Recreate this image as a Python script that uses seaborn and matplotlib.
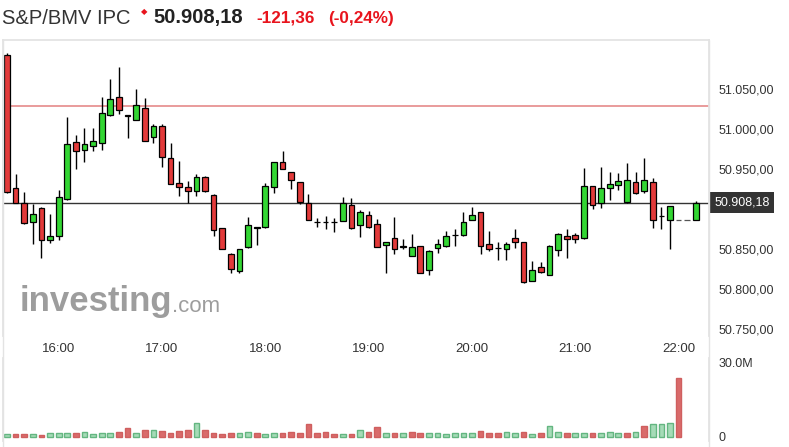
import numpy as np
import pandas as pd
import matplotlib.pyplot as plt
import matplotlib.transforms as mtransforms
from matplotlib.lines import Line2D
import seaborn as sns

# 5-minute candles from 15:30 to 22:10
opens = [51093.0, 50926.4, 50907.6, 50883.9, 50901.4, 50861.4, 50866.1, 50913.0, 50983.9, 50974.6,
         50979.5, 50983.4, 51017.5, 51039.8, 51017.1, 51011.7, 51026.4, 50989.8, 51004.0, 50963.6,
         50932.6, 50928.0, 50922.6, 50940.9, 50918.0, 50876.0, 50844.6, 50822.9, 50852.5, 50877.1,
         50877.6, 50928.4, 50958.9, 50946.4, 50933.9, 50908.4, 50883.9, 50884.0, 50884.5, 50885.5,
         50905.5, 50880.2, 50893.0, 50882.1, 50855.1, 50863.6, 50853.5, 50842.2, 50853.9, 50824.3,
         50851.9, 50853.9, 50868.0, 50867.4, 50886.8, 50896.1, 50857.1, 50851.1, 50850.6, 50863.6,
         50858.7, 50810.5, 50827.6, 50818.0, 50848.9, 50866.8, 50868.0, 50863.6, 50929.3, 50907.6,
         50926.4, 50930.5, 50908.7, 50934.6, 50923.0, 50933.9, 50891.7, 50886.8, 50886.8, 50886.8,
         50886.8]
highs = [51095.9, 50943.9, 50921.4, 50906.4, 50903.4, 50893.9, 50924.6, 51015.0, 50993.0, 51001.4,
         51001.4, 51039.8, 51062.6, 51077.3, 51017.5, 51050.1, 51038.5, 51006.0, 51006.0, 50982.6,
         50960.9, 50935.5, 50943.9, 50942.0, 50918.5, 50877.0, 50845.0, 50850.8, 50890.9, 50877.5,
         50932.6, 50959.0, 50973.4, 50946.5, 50934.0, 50918.6, 50889.6, 50891.7, 50889.6, 50915.1,
         50914.0, 50899.0, 50898.4, 50887.6, 50859.5, 50890.8, 50862.6, 50868.5, 50854.5, 50849.0,
         50862.6, 50873.4, 50874.9, 50897.1, 50902.6, 50896.5, 50873.0, 50859.6, 50859.5, 50875.0,
         50859.0, 50835.9, 50833.5, 50855.5, 50870.0, 50875.0, 50870.7, 50951.2, 50929.5, 50952.5,
         50947.0, 50945.7, 50957.5, 50946.0, 50963.6, 50938.9, 50902.6, 50904.5, 50886.8, 50886.8,
         50910.4]
lows = [50920.0, 50908.0, 50881.0, 50856.8, 50839.6, 50858.0, 50861.4, 50912.0, 50950.5, 50959.6,
        50972.7, 50973.5, 51016.6, 51019.0, 50989.6, 51011.0, 50985.0, 50983.0, 50953.0, 50932.0,
        50917.1, 50908.4, 50917.0, 50922.0, 50866.8, 50850.0, 50820.0, 50819.8, 50852.0, 50855.0,
        50877.0, 50920.9, 50950.0, 50924.8, 50906.4, 50886.0, 50878.4, 50875.5, 50871.8, 50885.0,
        50875.0, 50865.6, 50877.0, 50853.0, 50820.6, 50844.0, 50850.0, 50842.0, 50820.0, 50817.9,
        50845.6, 50853.0, 50854.4, 50867.0, 50886.0, 50844.0, 50847.4, 50836.5, 50836.5, 50851.0,
        50808.0, 50810.0, 50820.6, 50818.0, 50841.9, 50839.4, 50858.0, 50863.0, 50899.9, 50901.3,
        50912.0, 50924.0, 50908.0, 50918.6, 50920.9, 50877.1, 50875.0, 50850.5, 50886.8, 50886.8,
        50886.8]
closes = [50921.4, 50908.4, 50882.6, 50893.9, 50861.4, 50866.8, 50915.0, 50982.1, 50972.4, 50982.1,
          50985.6, 51020.1, 51038.3, 51023.5, 51017.1, 51030.5, 50985.2, 51004.0, 50965.0, 50932.1,
          50928.0, 50922.6, 50940.9, 50922.6, 50873.6, 50850.5, 50825.9, 50850.0, 50880.5, 50877.1,
          50929.6, 50958.9, 50950.5, 50936.8, 50909.6, 50886.8, 50883.9, 50884.0, 50883.5, 50908.4,
          50877.1, 50896.1, 50878.0, 50853.4, 50859.3, 50850.6, 50852.5, 50852.6, 50820.6, 50848.0,
          50856.1, 50866.8, 50868.0, 50883.9, 50893.4, 50853.6, 50850.6, 50851.1, 50857.1, 50858.7,
          50808.7, 50824.3, 50822.1, 50854.3, 50869.6, 50863.0, 50863.0, 50929.3, 50905.3, 50926.4,
          50931.4, 50935.5, 50936.8, 50920.1, 50936.8, 50886.8, 50891.7, 50904.3, 50886.8, 50886.8,
          50908.18]

# volume in millions, 'g' / 'r' colour per bar
volumes = [0.95, 0.95, 0.95, 0.95, 0.8, 1.5, 1.5, 1.5, 1.5, 1.9,
           0.95, 1.5, 1.5, 1.9, 3.4, 1.5, 2.85, 2.85, 2.3, 1.5,
           2.3, 2.85, 5.4, 2.85, 1.5, 0.95, 1.5, 1.5, 1.9, 1.5,
           0.95, 1.5, 1.5, 1.9, 1.5, 5.0, 1.5, 1.9, 0.95, 0.95,
           0.95, 2.85, 1.9, 3.9, 1.5, 1.35, 1.5, 1.9, 1.5, 1.5,
           1.5, 0.95, 1.5, 1.5, 1.5, 2.3, 1.5, 1.5, 1.9, 1.5,
           1.9, 0.95, 1.5, 4.35, 1.9, 1.5, 1.5, 1.5, 1.5, 1.5,
           1.9, 1.5, 1.5, 1.9, 4.35, 5.0, 5.0, 5.4, 23.7, 0.0,
           0.0]
vol_side = list("grrgrgggrg" "gggrrgrgrr" "rrgrrrrggr" "ggrrrrrrrg"
                "rgrrgrgrrg" "gggggrrrgg" "rgrggrggrg" "ggrgrgggrr" "r")

time_ticks = [6, 18, 30, 42, 54, 66, 78]
time_labels = ["16:00", "17:00", "18:00", "19:00", "20:00", "21:00", "22:00"]
price_ticks = [51050, 51000, 50950, 50850, 50800, 50750]
price_labels = ["51.050,00", "51.000,00", "50.950,00", "50.850,00", "50.800,00", "50.750,00"]
last_price = 50908.18
prev_close = 51029.54

sns.set_theme(style="white")
plt.rcParams['font.family'] = ['Liberation Sans', 'DejaVu Sans']

W, H = 789, 447
fig = plt.figure(figsize=(W / 100, H / 100), dpi=100)
fig.patch.set_facecolor('white')

def fx(px):
    return px / W

def fy(py):
    return 1 - py / H

ax = fig.add_axes([fx(3), fy(336), (709 - 3) / W, (336 - 40) / H])
axv = fig.add_axes([fx(3), fy(441), (709 - 3) / W, (441 - 358) / H])

GREEN = '#33d633'
RED = '#e23a3a'

df = pd.DataFrame({'o': opens, 'h': highs, 'l': lows, 'c': closes})
df['i'] = np.arange(len(df))
body_low = df[['o', 'c']].min(axis=1)
body_h = (df['c'] - df['o']).abs().clip(lower=0.4)
cols = np.where(df['c'] > df['o'], GREEN, np.where(df['c'] < df['o'], RED, 'black'))
flat = (df['h'] == df['l']).values
edge = np.where(flat, '#555555', 'black')

ax.vlines(df['i'][~flat], df['l'][~flat], df['h'][~flat], color='black', lw=1, zorder=2)
ax.bar(df['i'], body_h, bottom=body_low, width=0.66, color=cols,
       edgecolor=edge, linewidth=0.9, zorder=3)

ax.axhline(prev_close, color='#e58a8a', lw=1.2, zorder=1)
ax.axhline(last_price, color='#333333', lw=1, zorder=1)

ax.set_xlim(-0.465, 81.53)
ax.set_ylim(50741.6, 51111.6)
ax.set_xticks(time_ticks)
ax.set_xticklabels(time_labels, fontsize=9.5, color='#333333')
ax.yaxis.tick_right()
ax.set_yticks(price_ticks)
ax.set_yticklabels(price_labels, fontsize=9, color='#333333')
ax.tick_params(axis='both', length=0)
ax.tick_params(axis='x', pad=5)
ax.tick_params(axis='y', pad=7)
for s in ['top', 'left', 'right']:
    ax.spines[s].set_color('#e3e3e3')
ax.spines['bottom'].set_visible(False)

trans = mtransforms.blended_transform_factory(ax.transAxes, ax.transData)
ax.text(1.0075, last_price, '50.908,18', transform=trans, ha='left', va='center',
        fontsize=9, color='white',
        bbox=dict(facecolor='#333333', edgecolor='none', boxstyle='square,pad=0.35'))

# volume panel
vdf = pd.DataFrame({'i': np.arange(len(volumes)), 'v': volumes, 's': vol_side})
vdf = vdf[vdf['v'] > 0]
sns.barplot(data=vdf[vdf['s'] == 'g'], x='i', y='v', native_scale=True, errorbar=None,
            color='#a5dbb7', edgecolor='#64b681', linewidth=1, width=0.66, saturation=1, ax=axv)
sns.barplot(data=vdf[vdf['s'] == 'r'], x='i', y='v', native_scale=True, errorbar=None,
            color='#d96b6b', edgecolor='#cf5f5f', linewidth=1, width=0.66, saturation=1, ax=axv)
axv.set_xlim(-0.465, 81.53)
axv.set_ylim(-1.75, 32.0)
axv.set_xlabel('')
axv.set_ylabel('')
axv.set_xticks([])
axv.yaxis.tick_right()
axv.set_yticks([0, 30])
axv.set_yticklabels(['0', '30.0M'], fontsize=9, color='#333333')
axv.tick_params(axis='y', length=0, pad=7)
for s in ['top', 'bottom']:
    axv.spines[s].set_visible(False)
for s in ['left', 'right']:
    axv.spines[s].set_color('#e3e3e3')

# border lines joining the panels
fig.add_artist(Line2D([fx(709), fx(709)], [fy(40), fy(447)], color='#e3e3e3', lw=1))
fig.add_artist(Line2D([fx(3), fx(3)], [fy(40), fy(447)], color='#e3e3e3', lw=1))

# header
fig.text(fx(2), fy(18), 'S&P/BMV IPC', fontsize=14.5, color='#333333', va='center')
fig.text(fx(144), fy(12), '\u25C6', fontsize=6, color='#e8141d', ha='center', va='center',
         family=['DejaVu Sans'])
fig.text(fx(153), fy(18), '50.908,18', fontsize=14.5, fontweight='bold', color='#222222', va='center')
fig.text(fx(256), fy(18), '-121,36', fontsize=12.3, fontweight='bold', color='#e8141d', va='center')
fig.text(fx(328), fy(18), '(-0,24%)', fontsize=12.3, fontweight='bold', color='#e8141d', va='center')

# watermark
fig.text(fx(20), fy(302), 'investing', fontsize=25, fontweight='bold', color='#8c8c8c',
         alpha=0.85, va='center')
fig.text(fx(172), fy(306), '.com', fontsize=16, color='#8c8c8c', alpha=0.85, va='center')

plt.savefig('out.png', dpi=100, facecolor='white')
